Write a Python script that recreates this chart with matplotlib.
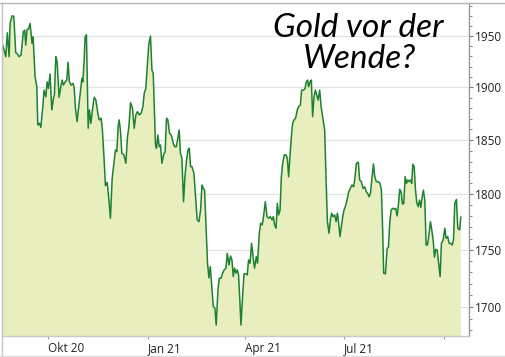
import matplotlib
matplotlib.use("Agg")
import matplotlib.pyplot as plt
import matplotlib.dates as mdates
from matplotlib.ticker import FixedLocator, NullFormatter, FuncFormatter
from matplotlib.lines import Line2D
import numpy as np
import datetime as dt

start_date = dt.datetime(2020, 8, 20)

days = [0.6,3.4,4.9,6.5,7.4,9.2,10.8,12.6,14.1,15.7,17.5,19.6,20.9,21.8,23.0,24.2,25.8,27.6,28.6,30.4,
        32.0,32.9,34.4,35.7,37.5,38.7,40.3,41.5,42.7,44.2,45.8,47.3,48.2,49.5,50.7,52.5,54.1,55.3,56.5,58.3,
        59.6,60.8,62.0,63.6,65.2,66.4,67.6,69.1,70.3,71.9,73.5,74.4,75.6,76.5,77.7,79.3,80.5,81.8,83.6,84.8,
        86.4,88.2,89.4,91.2,92.4,94.0,95.2,96.8,98.0,99.8,101.4,103.2,104.4,105.7,106.9,107.8,109.0,110.3,112.2,114.0,
        115.5,116.8,118.3,120.1,121.7,123.2,124.7,126.3,128.1,129.7,130.9,132.4,133.9,135.2,136.7,138.0,139.2,140.4,141.3,142.2,
        143.5,144.7,145.9,147.2,148.7,150.2,151.4,152.7,154.2,155.8,157.3,158.8,160.4,161.9,163.1,164.3,165.6,167.1,168.4,169.9,
        171.2,172.4,173.6,174.8,176.7,178.2,179.7,181.3,182.8,184.1,185.3,186.5,187.8,189.2,190.5,191.7,192.9,194.5,196.0,197.2,
        198.8,200.0,201.6,203.1,204.6,206.2,207.4,209.0,210.4,211.7,212.9,214.1,215.4,216.6,217.8,218.8,220.0,221.5,222.8,224.6,
        225.8,227.0,228.3,229.8,231.3,232.5,234.1,235.3,236.9,238.1,239.6,240.8,242.4,244.0,245.4,247.0,248.6,249.8,251.0,252.3,
        253.5,254.7,256.0,257.2,258.4,259.9,261.5,262.7,263.9,265.2,266.4,267.6,268.9,270.3,271.9,273.1,274.7,275.9,277.7,279.0,
        280.2,281.4,282.3,283.6,284.8,286.0,287.3,288.5,289.7,291.0,292.5,293.8,295.2,297.1,298.4,299.6,301.1,302.3,303.5,304.8,
        306.3,307.6,308.8,310.0,311.2,312.5,313.7,314.9,316.1,317.7,319.2,320.7,322.3,323.8,325.1,326.3,328.1,329.3,330.9,332.4,
        333.9,335.5,336.7,338.0,339.2,340.8,342.0,343.2,344.7,346.6,348.1,349.3,350.5,351.4,353.0,354.6,355.8,357.0,358.3,359.7,
        361.3,362.5,363.8,365.0,366.2,367.5,368.7,369.9,371.2,372.4,373.6,374.9,376.1,377.3,378.2,379.5,380.7,381.9,383.2,384.4,
        385.6,386.9,388.0,389.3,390.5,391.7,392.9,394.5,395.7,397.0,398.2,399.4,400.7,401.9,403.4,404.6,406.2,407.7,408.9,410.4,
        411.7,413.2,414.5,415.7,416.9,418.4,419.7,421.3,422.5]

prices = [1941.2,1929.8,1953.3,1929.8,1962.6,1970.1,1969.8,1933.7,1932.5,1929.8,1931.5,1954.3,1955.9,1941.2,1956.6,1956.9,1962.6,1942.9,1949.3,1910.3,
          1900.6,1864.2,1865.8,1862.0,1881.6,1897.4,1891.1,1905.4,1899.1,1913.0,1878.5,1889.6,1892.7,1929.8,1924.9,1890.5,1900.6,1907.1,1902.3,1905.4,
          1907.1,1924.4,1905.4,1902.2,1903.9,1900.0,1880.1,1867.4,1878.5,1894.3,1908.8,1905.4,1926.6,1949.3,1951.3,1861.1,1878.5,1865.8,1881.6,1890.5,
          1887.9,1875.3,1869.0,1870.6,1859.5,1831.5,1807.7,1810.8,1799.1,1778.2,1814.5,1829.9,1840.7,1839.2,1862.6,1869.0,1859.5,1837.7,1836.1,1828.4,
          1853.1,1862.6,1885.4,1880.1,1861.1,1873.7,1876.8,1873.7,1875.3,1881.6,1894.3,1899.1,1923.4,1942.9,1950.0,1916.9,1913.6,1875.3,1845.4,1842.3,
          1854.7,1843.8,1845.4,1828.4,1836.1,1839.2,1870.6,1869.0,1856.4,1854.7,1848.4,1843.8,1843.8,1851.6,1859.5,1837.7,1833.1,1793.1,1816.0,1831.5,
          1840.7,1842.3,1825.3,1825.3,1819.2,1797.6,1776.7,1775.1,1785.6,1808.3,1805.3,1803.7,1772.2,1738.1,1725.2,1735.2,1720.7,1700.3,1698.9,1684.5,
          1714.8,1725.0,1725.0,1729.4,1732.3,1733.8,1746.9,1736.6,1744.5,1741.0,1726.4,1733.8,1729.4,1732.3,1727.9,1709.0,1684.5,1709.0,1728.8,1728.8,
          1727.9,1741.0,1738.1,1755.7,1742.5,1733.8,1743.9,1738.1,1764.7,1773.7,1772.2,1779.6,1793.1,1779.6,1778.2,1779.6,1776.7,1779.6,1772.2,1769.2,
          1791.6,1781.1,1785.6,1816.0,1828.4,1836.1,1836.1,1833.1,1816.0,1836.1,1853.1,1865.8,1869.0,1870.6,1878.5,1881.6,1883.2,1897.4,1897.4,1899.1,
          1905.4,1907.1,1900.6,1905.4,1907.1,1872.1,1891.1,1897.4,1892.7,1887.9,1897.4,1881.6,1872.1,1859.5,1813.0,1775.1,1764.7,1776.7,1782.7,1779.6,
          1781.1,1775.1,1782.7,1773.7,1761.7,1770.7,1779.6,1785.6,1788.6,1794.6,1802.1,1805.3,1808.3,1806.7,1816.0,1828.4,1829.4,1813.0,1811.4,1805.3,
          1806.7,1802.1,1800.6,1797.6,1800.6,1816.0,1827.8,1816.0,1811.4,1811.4,1809.9,1803.7,1767.7,1729.4,1728.8,1751.3,1752.2,1773.7,1785.6,1787.2,
          1786.3,1787.2,1780.2,1790.1,1804.3,1802.1,1791.0,1791.6,1816.0,1809.9,1813.0,1811.4,1813.0,1809.9,1827.5,1825.3,1804.3,1792.2,1788.6,1794.6,
          1788.1,1797.6,1803.7,1794.6,1754.2,1754.2,1761.7,1775.1,1767.7,1758.7,1743.4,1750.4,1749.7,1739.5,1726.4,1755.7,1758.7,1769.2,1760.2,1761.7,
          1755.7,1755.7,1754.2,1758.7,1791.6,1795.2,1769.2,1767.7,1779.1]

y_ticks = [1700, 1750, 1800, 1850, 1900, 1950]
x_tick_dates = [dt.datetime(2020, 10, 1), dt.datetime(2021, 1, 1), dt.datetime(2021, 4, 1),
                dt.datetime(2021, 7, 1), dt.datetime(2021, 10, 1)]
x_tick_labels = ["Okt 20", "Jan 21", "Apr 21", "Jul 21", ""]
title_lines = ["Gold vor der", "Wende?"]

plt.rcParams['font.family'] = ['Open Sans', 'DejaVu Sans']

W, H = 506, 357
fig = plt.figure(figsize=(W / 100, H / 100), dpi=100)
ax = fig.add_axes([2.5 / W, 1 - 336 / H, (469 - 2.5) / W, (336 - 3) / H])

x0 = mdates.date2num(start_date)
x = x0 + np.array(days)
y = np.array(prices)

line_col = '#1c8232'
fill_col = '#e9eebf'

ax.set_yscale('log')
ax.set_ylim(1675.2, 1983)
ax.set_xlim(x0 + 0.4, x0 + 430.0)

ax.fill_between(x, y, 1600, color=fill_col, lw=0, zorder=2)
ax.plot(x, y, color=line_col, lw=1.1, zorder=3)

# y axis on right
ax.yaxis.tick_right()
ax.yaxis.set_major_locator(FixedLocator(y_ticks))
ax.yaxis.set_major_formatter(FuncFormatter(lambda v, p: f"{int(round(v))}"))
ax.yaxis.set_minor_locator(FixedLocator(np.arange(1680, 1990, 10)))
ax.yaxis.set_minor_formatter(NullFormatter())
ax.tick_params(axis='y', which='major', direction='out', length=3, width=0.8, color='#777777',
               pad=1.5, labelsize=8.5, labelcolor='#222222', right=True, left=False)
ax.tick_params(axis='y', which='minor', direction='out', length=2, width=0.7, color='#888888',
               right=True, left=False)

ax.set_xticks(mdates.date2num(x_tick_dates))
ax.set_xticklabels(x_tick_labels)
ax.xaxis.set_minor_locator(FixedLocator([]))
for lab in ax.get_xticklabels():
    lab.set_ha('left')
ax.tick_params(axis='x', which='major', direction='out', length=2.5, width=0.8, color='#999999',
               pad=2, labelsize=8.5, labelcolor='#222222')

ax.grid(True, axis='y', which='major', color='#e3e3e3', lw=0.9, zorder=0)
ax.set_axisbelow(True)

for s in ['top', 'left']:
    ax.spines[s].set_visible(False)
ax.spines['right'].set_color('#999999')
ax.spines['right'].set_linewidth(1.0)
ax.spines['bottom'].set_color('#c8c8c8')
ax.spines['bottom'].set_linewidth(1.0)

# frame lines of the picture
fig.add_artist(Line2D([0, 1], [1 - 3 / H, 1 - 3 / H], transform=fig.transFigure, color='#b4b4b4', lw=1.0))
fig.add_artist(Line2D([2 / W, 2 / W], [0, 1 - 3 / H], transform=fig.transFigure, color='#c4c4c4', lw=1.0))
fig.add_artist(Line2D([0, 1], [1 - 355.5 / H, 1 - 355.5 / H], transform=fig.transFigure, color='#dddddd', lw=1.0))

# title (handwritten style in the original)
title_kw = dict(ha='center', va='baseline', fontsize=24, family=['Lato', 'DejaVu Sans'],
                style='italic', fontweight=350, color='#000000')
fig.text(358 / W, 1 - 37 / H, title_lines[0], **title_kw)
fig.text(360 / W, 1 - 68 / H, title_lines[1], **title_kw)

fig.savefig('out.png', dpi=100)
